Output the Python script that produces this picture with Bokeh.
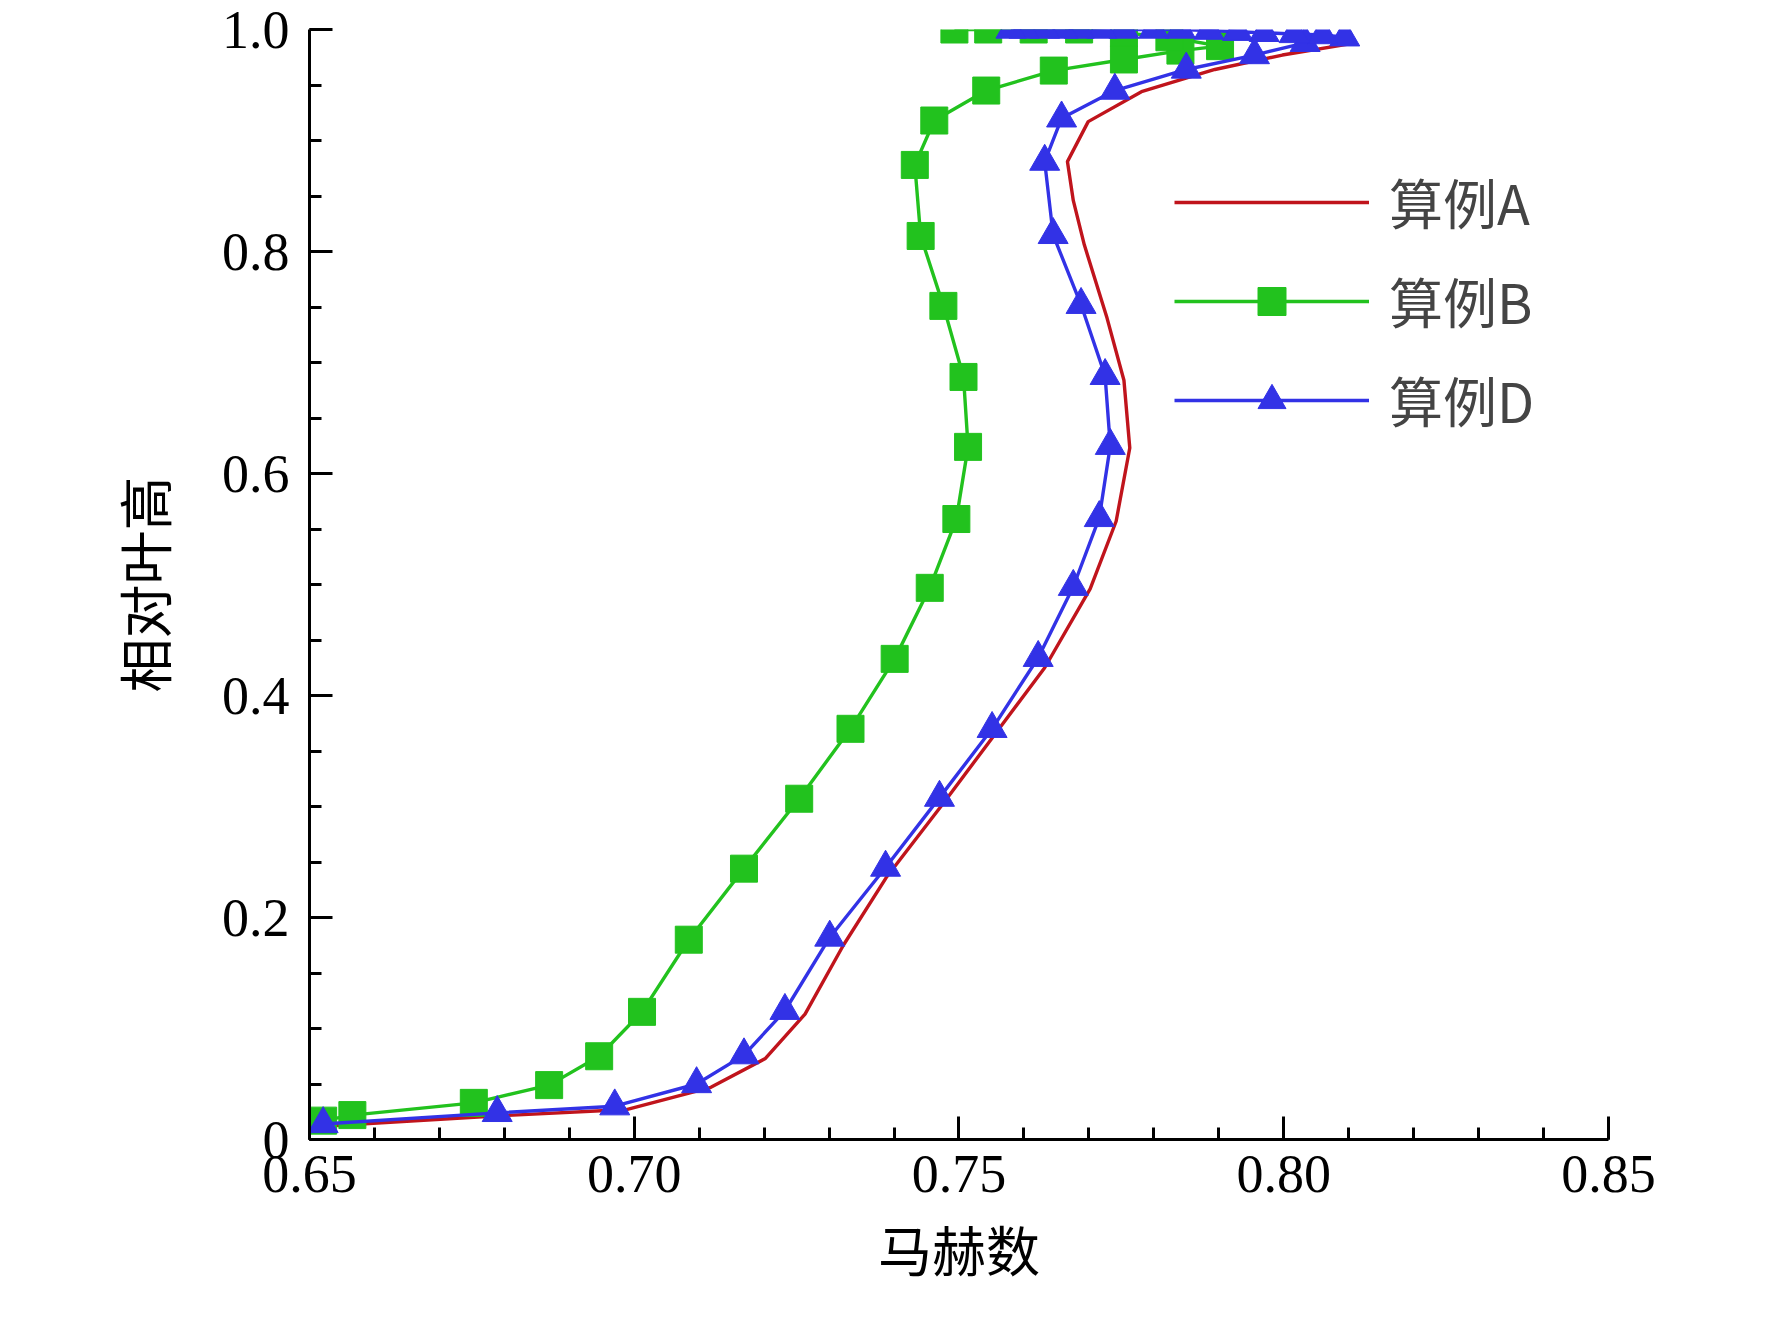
from bokeh.plotting import figure
from bokeh.models import Range1d, SingleIntervalTicker, Legend, LegendItem, CustomJSTickFormatter
from bokeh.embed import file_html
from bokeh.resources import INLINE

a_x = [0.6521,0.6779,0.6988,0.7118,0.7202,0.7263,0.7322,0.7388,0.7476,0.7554,0.7632,0.7702,0.7742,0.7763,0.7754,0.7728,0.7693,0.7676,0.7667,0.7699,0.7781,0.7894,0.7998,0.8111]
a_y = [0.012,0.021,0.027,0.047,0.073,0.113,0.175,0.236,0.303,0.364,0.425,0.496,0.557,0.623,0.684,0.740,0.806,0.846,0.881,0.917,0.944,0.964,0.977,0.988]

b_x = [0.6521,0.6566,0.6753,0.6869,0.6946,0.7012,0.7084,0.7169,0.7254,0.7333,0.7401,0.7455,0.7496,0.7514,0.7507,0.7476,0.7441,0.7432,0.7462,0.7542,0.7646,0.7754,0.7841,0.7902,0.7824,0.7754,0.7685,0.7615,0.7545,0.7493]
b_y = [0.017,0.022,0.033,0.049,0.075,0.115,0.180,0.244,0.307,0.370,0.433,0.497,0.559,0.624,0.687,0.751,0.814,0.878,0.918,0.945,0.963,0.973,0.981,0.985,0.993,0.997,1.0,1.0,1.0,1.0]

d_x = [0.6521,0.6789,0.6970,0.7096,0.7169,0.7232,0.7301,0.7387,0.7470,0.7551,0.7622,0.7676,0.7716,0.7733,0.7725,0.7688,0.7645,0.7632,0.7658,0.7740,0.7850,0.7955,0.8033,0.8094,0.8060,0.8016,0.7970,0.7929,0.7885,0.7841,0.7800,0.7754,0.7720,0.7685,0.7660,0.7632,0.7600,0.7580]
d_y = [0.014,0.024,0.030,0.050,0.076,0.116,0.182,0.245,0.308,0.370,0.434,0.498,0.560,0.625,0.688,0.752,0.815,0.881,0.920,0.945,0.964,0.977,0.988,0.993,0.995,0.996,0.997,0.998,0.999,1.0,1.0,1.0,1.0,1.0,1.0,1.0,1.0,1.0]

x_label = "马赫数"
y_label = "相对叶高"
names = ["算例A", "算例B", "算例D"]

p = figure(width=1756, height=1318, output_backend="svg", toolbar_location=None,
           x_range=Range1d(0.65, 0.85001), y_range=Range1d(0, 1.00001),
           frame_width=1299, frame_height=1110,
           min_border_left=309, min_border_top=29, min_border_bottom=179, min_border_right=148)
p.outline_line_color = None
p.grid.visible = False
p.background_fill_color = "white"

p.xaxis.ticker = SingleIntervalTicker(interval=0.05, num_minor_ticks=5)
p.yaxis.ticker = SingleIntervalTicker(interval=0.2, num_minor_ticks=4)
p.xaxis.formatter = CustomJSTickFormatter(code="return tick.toFixed(2);")
p.yaxis.formatter = CustomJSTickFormatter(code="return Math.abs(tick) < 1e-9 ? '0' : tick.toFixed(1);")
for ax in (p.xaxis, p.yaxis):
    ax.axis_line_width = 3
    ax.axis_line_color = "black"
    ax.major_tick_in = 23
    ax.major_tick_out = 0
    ax.minor_tick_in = 12
    ax.minor_tick_out = 0
    ax.major_tick_line_width = 3
    ax.minor_tick_line_width = 3
    ax.major_label_text_font = "Liberation Serif"
    ax.major_label_text_font_size = "54px"
    ax.major_label_text_color = "black"
    ax.axis_label_text_font = "Noto Sans CJK SC"
    ax.axis_label_text_font_size = "54px"
    ax.axis_label_text_font_style = "normal"
    ax.axis_label_text_color = "black"
p.xaxis.axis_label = x_label
p.yaxis.axis_label = y_label
p.xaxis.major_label_standoff = 16
p.yaxis.major_label_standoff = 20
p.xaxis.axis_label_standoff = 14
p.yaxis.axis_label_standoff = 36

red = "#c0141c"; green = "#22c21e"; blue = "#3232e6"
ra = p.line(a_x, a_y, line_color=red, line_width=3.4)
gb = p.line(b_x, b_y, line_color=green, line_width=3.4)
sb = p.scatter(b_x, b_y, marker="square", size=27, fill_color=green, line_color=green)
bd = p.line(d_x, d_y, line_color=blue, line_width=3.4)
td = p.scatter(d_x, d_y, marker="triangle", size=30, fill_color=blue, line_color=blue)

leg = Legend(items=[LegendItem(label=names[0], renderers=[ra]),
                    LegendItem(label=names[1], renderers=[gb, sb]),
                    LegendItem(label=names[2], renderers=[bd, td])],
             location=(865, 700))
leg.border_line_color = None
leg.background_fill_alpha = 0
leg.glyph_width = 195
leg.glyph_height = 70
leg.label_text_font = "Noto Sans CJK SC"
leg.label_text_font_size = "54px"
leg.label_standoff = 20
leg.spacing = 20
p.add_layout(leg)

open("out.html", "w").write(file_html(p, INLINE))
